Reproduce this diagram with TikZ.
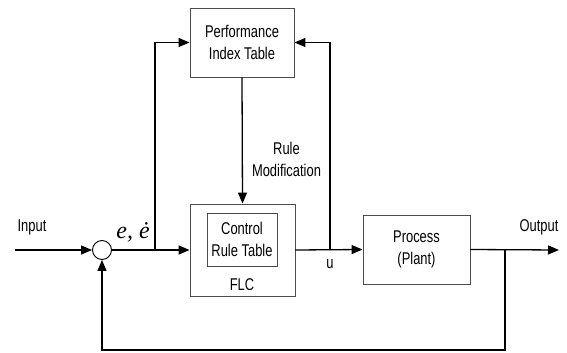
\documentclass[tikz,border=0pt]{standalone}
\usepackage{fontspec}
\setmainfont{Liberation Sans}[FakeStretch=0.76]
\newfontfamily\eserif{Liberation Serif}
\usetikzlibrary{arrows.meta}
\begin{document}
\begin{tikzpicture}[x=1pt,y=-1pt,
  blk/.style={draw=black!70,line width=0.9pt,rectangle,inner sep=0pt,align=center,font=\fontsize{17}{22}\selectfont},
  lbl/.style={inner sep=0pt,align=center,font=\fontsize{17}{22}\selectfont},
  conn/.style={line width=1.3pt,-{Triangle[length=11pt,width=9pt]}}]
\useasboundingbox (0,0) rectangle (567,353);
\node[blk,minimum width=104pt,minimum height=69pt] (pit) at (242,42.5) {Performance\\Index Table};
\node[blk,minimum width=105pt,minimum height=92pt] (flc) at (242.5,250) {};
\node[blk,minimum width=70pt,minimum height=53pt] (crt) at (242,239.5) {Control\\Rule Table};
\node[lbl] (flclbl) at (242,285) {FLC};
\node[blk,minimum width=107pt,minimum height=69pt] (proc) at (416.5,249.5) {Process\\(Plant)};
\node[draw=black,line width=0.9pt,circle,minimum size=19pt,inner sep=0pt] (sum) at (102,250) {};
\coordinate (in) at (15,250);
\coordinate (out) at (559,250);
\coordinate (j1) at (155,250);
\coordinate (ju) at (330,250);
\coordinate (jo) at (505,250);
\coordinate (fb) at (505,350);
\node[lbl] (inlbl) at (32,227) {Input};
\node[lbl] (outlbl) at (539,227) {Output};
\node[lbl] (ulbl) at (330,264) {u};
\node[lbl] (rmlbl) at (286.5,159) {Rule\\Modification};
\node[inner sep=0pt,font=\eserif\itshape\fontsize{24}{26}\selectfont] (elbl) at (133,232) {e, ė};
\draw[conn] (in) -- (sum.west);
\draw[conn] (sum.east) -- (flc.west);
\draw[conn] (j1) |- (pit.west);
\draw[conn] (flc.east) -- (proc.west);
\draw[conn] (ju) |- (pit.east);
\draw[conn] (pit.south) -- (flc.north);
\draw[conn] (proc.east) -- (out);
\draw[conn] (jo) -- (fb) -| (sum.south);
\end{tikzpicture}
\end{document}
